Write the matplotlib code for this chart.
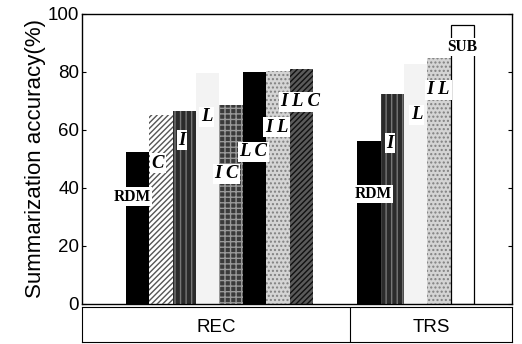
import numpy as np
import matplotlib
matplotlib.use("Agg")
import matplotlib.pyplot as plt

# Summarization accuracy (%) per feature set
rec_labels = ["RDM", "C", "I", "L", "I C", "L C", "I L", "I L C"]
rec_values = [52.5, 65.2, 66.6, 79.5, 68.6, 80.1, 80.3, 80.9]
trs_labels = ["RDM", "I", "L", "I L", "SUB"]
trs_values = [56.2, 72.3, 82.8, 84.7, 96.2]
groups = ["REC", "TRS"]
yticks = [0, 20, 40, 60, 80, 100]

# fill styles: (facecolor, hatch, hatch colour)
styles = {
    "RDM": ("black", None, None),
    "C": ("white", "//////", "#555555"),
    "I": ("#2b2b2b", "|||", "#777777"),
    "L": ("#f3f3f3", None, None),
    "I C": ("#3a3a3a", "+++", "#999999"),
    "L C": ("black", None, None),
    "I L": ("#d4d4d4", "....", "#808080"),
    "I L C": ("#5a5a5a", "//////", "#111111"),
    "SUB": ("white", None, None),
}

# label anchors (horizontal shift from bar centre, height in data units)
rec_dx = [-0.23, -0.12, -0.11, -0.04, -0.19, -0.06, -0.05, -0.05]
rec_ly = [37, 48.6, 56.5, 64.6, 45, 52.5, 61, 69.8]
trs_dx = [0.19, -0.10, 0.04, -0.03, 0.0]
trs_ly = [38, 55.4, 65.2, 73.8, 88.7]

W, H = 522, 344
fig = plt.figure(figsize=(W / 100, H / 100), dpi=100)
ax = fig.add_axes([82 / W, 40 / H, 430 / W, 290 / H])

rec_x = np.arange(len(rec_values), dtype=float)
trs_start = 9.89
trs_x = trs_start + np.arange(len(trs_values))
divider = 9.58
xmin, xmax = -1.87, 16.51

sans = "Liberation Sans"
serif = "Liberation Serif"

def draw_bar(x, v, name):
    fc, hatch, hc = styles[name]
    ax.bar(x, v, width=1.0, align="edge", color=fc, edgecolor="none", linewidth=0, zorder=2)
    if hatch:
        ax.bar(x, v, width=1.0, align="edge", color="none", edgecolor=hc,
               hatch=hatch, linewidth=0, zorder=3)
    if name == "SUB":
        ax.bar(x, v, width=1.0, align="edge", color="none", edgecolor="black",
               linewidth=0.9, zorder=3)

def draw_label(xc, y, name):
    bold = name in ("RDM", "SUB")
    ax.text(xc, y, name, ha="center", va="center", zorder=5,
            family=serif, fontsize=11.2 if bold else 13.5,
            fontweight="bold", fontstyle="normal" if bold else "italic",
            bbox=dict(boxstyle="square,pad=0.08", fc="white", ec="none"))

for i, (v, name) in enumerate(zip(rec_values, rec_labels)):
    draw_bar(rec_x[i], v, name)
for i, (v, name) in enumerate(zip(trs_values, trs_labels)):
    draw_bar(trs_x[i], v, name)
for i, name in enumerate(rec_labels):
    draw_label(rec_x[i] + 0.5 + rec_dx[i], rec_ly[i], name)
for i, name in enumerate(trs_labels):
    draw_label(trs_x[i] + 0.5 + trs_dx[i], trs_ly[i], name)

ax.set_xlim(xmin, xmax)
ax.set_ylim(0, 100)
ax.set_yticks(yticks)
ax.set_yticklabels([str(t) for t in yticks], family=sans, fontsize=13.5)
ax.set_xticks([])
ax.tick_params(axis="y", direction="in", length=3, width=0.8, right=True, pad=2)
ax.set_ylabel("Summarization accuracy(%)", family=sans, fontsize=16, labelpad=1)
for s in ax.spines.values():
    s.set_linewidth(1.0)

# category strip under the plot
cax = fig.add_axes([82 / W, 2 / H, 430 / W, 35 / H])
cax.set_xlim(xmin, xmax)
cax.set_ylim(0, 1)
cax.set_xticks([])
cax.set_yticks([])
for s in cax.spines.values():
    s.set_linewidth(0.8)
cax.axvline(divider, color="black", linewidth=0.8)
cax.text((xmin + divider) / 2, 0.42, groups[0], ha="center", va="center",
         family=sans, fontsize=13.5)
cax.text((divider + xmax) / 2, 0.42, groups[1], ha="center", va="center",
         family=sans, fontsize=13.5)

fig.savefig("out.png", dpi=100)
